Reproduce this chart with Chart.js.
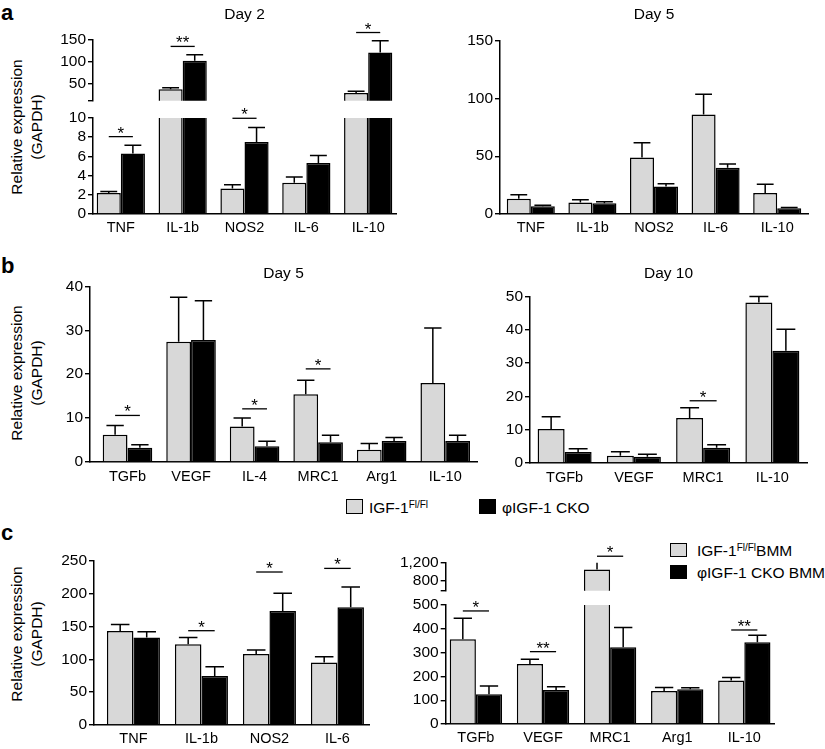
<!DOCTYPE html>
<html>
<head>
<meta charset="utf-8">
<script src="https://cdn.jsdelivr.net/npm/chart.js@4.4.1/dist/chart.umd.min.js"></script>
<style>
  body { margin: 0; background: #fff; }
  #fig { position: relative; width: 825px; height: 749px; overflow: hidden; background: #fff;
         font-family: "Liberation Sans", Arial, sans-serif; color: #000; }
  #fig canvas { position: absolute; }
  .lbl { position: absolute; font-weight: bold; font-size: 22px; line-height: 21px; }
  .ytitle { position: absolute; font-size: 15.5px; line-height: 20px; text-align: center; white-space: nowrap;
            transform: translate(-50%, -50%) rotate(-90deg); }
  .key { position: absolute; width: 17px; height: 15px; border: 1.4px solid #000; box-sizing: border-box; }
  .keytxt { position: absolute; font-size: 15.5px; line-height: 15px; white-space: nowrap; }
  sup { font-size: 10px; vertical-align: 5px; line-height: 0; }
</style>
</head>
<body>
<div id="fig">
  <div class="lbl" style="left:1px;top:2px">a</div>
  <div class="lbl" style="left:1px;top:255px">b</div>
  <div class="lbl" style="left:1px;top:522px">c</div>

  <div class="ytitle" style="left:27px;top:127px">Relative expression<br>(GAPDH)</div>
  <div class="ytitle" style="left:27px;top:373px">Relative expression<br>(GAPDH)</div>
  <div class="ytitle" style="left:27px;top:634px">Relative expression<br>(GAPDH)</div>

  <div class="key" style="left:346px;top:499px;background:#d8d8d8"></div>
  <div class="keytxt" style="left:369px;top:500px">IGF-1<sup>Fl/Fl</sup></div>
  <div class="key" style="left:479px;top:499px;background:#000"></div>
  <div class="keytxt" style="left:502px;top:500px">φIGF-1 CKO</div>

  <div class="key" style="left:670px;top:543px;height:14px;background:#d8d8d8"></div>
  <div class="keytxt" style="left:697px;top:543px">IGF-1<sup>Fl/Fl</sup>BMM</div>
  <div class="key" style="left:670px;top:565px;height:14px;background:#000"></div>
  <div class="keytxt" style="left:697px;top:565px">φIGF-1 CKO BMM</div>
</div>
<script>
const GRAY = '#d8d8d8';
const BLACK = '#000000';

// a - Day 2 (broken axis) and Day 5
const catA = ['TNF', 'IL-1b', 'NOS2', 'IL-6', 'IL-10'];
const aD2Ctrl = [2.2, 36.6, 2.65, 3.25, 27.6];
const aD2CtrlErr = [0.15, 3.5, 0.4, 0.6, 4];
const aD2Cko = [6.3, 102, 7.5, 5.3, 121];
const aD2CkoErr = [0.85, 14, 1.5, 0.8, 27];
const aD2TopTicks = [10, 50, 100, 150];
const aD2LowTicks = [0, 2, 4, 6, 8, 10];
const aD2TopMarks = [[1, 135, '**'], [4, 167, '*']];
const aD2LowMarks = [[0, 8.06, '*'], [2, 9.97, '*']];

const aD5Ctrl = [13.2, 10, 48.8, 86, 18.1];
const aD5CtrlErr = [3.4, 2.3, 12.9, 17.5, 7.7];
const aD5Cko = [6.6, 9.2, 23.8, 40.1, 4.9];
const aD5CkoErr = [0.9, 1.4, 2.3, 3.2, 0.8];
const aD5Ticks = [0, 50, 100, 150];

// b - Day 5 and Day 10
const catB5 = ['TGFb', 'VEGF', 'IL-4', 'MRC1', 'Arg1', 'IL-10'];
const bD5Ctrl = [6.2, 27.4, 8.1, 15.4, 2.8, 18.0];
const bD5CtrlErr = [2.1, 10.1, 1.9, 3.2, 1.4, 12.5];
const bD5Cko = [3.26, 27.8, 3.56, 4.5, 4.8, 4.8];
const bD5CkoErr = [0.64, 8.9, 1.14, 1.6, 0.8, 1.3];
const bD5Ticks = [0, 10, 20, 30, 40];
const bD5Marks = [[0, 10.6, '*'], [2, 12.1, '*'], [3, 21.2, '*']];

const catB10 = ['TGFb', 'VEGF', 'MRC1', 'IL-10'];
const bD10Ctrl = [10.2, 2.2, 13.5, 48.2];
const bD10CtrlErr = [3.7, 1.2, 3.1, 1.8];
const bD10Cko = [3.3, 1.9, 4.6, 33.7];
const bD10CkoErr = [1.0, 0.7, 0.9, 6.5];
const bD10Ticks = [0, 10, 20, 30, 40, 50];
const bD10Marks = [[2, 18.7, '*']];

// c - BMM
const catC1 = ['TNF', 'IL-1b', 'NOS2', 'IL-6'];
const cM1Ctrl = [143, 123, 108, 95];
const cM1CtrlErr = [10, 10, 6, 9];
const cM1Cko = [133, 74.5, 173.5, 179];
const cM1CkoErr = [9, 14, 27, 31];
const cM1Ticks = [0, 50, 100, 150, 200, 250];
const cM1Marks = [[1, 143.5, '*'], [2, 232.8, '*'], [3, 238.3, '*']];

const catC2 = ['TGFb', 'VEGF', 'MRC1', 'Arg1', 'IL-10'];
const cM2Ctrl = [356, 252, 1050, 139, 183];
const cM2CtrlErr = [88, 20, 160, 14, 12];
const cM2Cko = [125, 143, 323, 146, 343];
const cM2CkoErr = [35, 14, 82, 6, 30];
const cM2TopTicks = [590, 800, 1200];
const cM2LowTicks = [0, 100, 200, 300, 400, 500];
const cM2TopMarks = [[2, 1341, '*']];
const cM2LowMarks = [[0, 475, '*'], [1, 304, '**'], [4, 395, '**']];

Chart.defaults.font.family = '"Liberation Sans", Arial, sans-serif';
Chart.defaults.color = '#000';

const fig = document.getElementById('fig');

// error bars + significance brackets
const errPlugin = {
  id: 'errs',
  afterDatasetsDraw(chart, args, opts) {
    const ctx = chart.ctx;
    const y = chart.scales.y;
    const lo = y.min, hi = y.max;
    ctx.save();
    ctx.strokeStyle = '#000';
    ctx.lineWidth = 1.5;
    chart.data.datasets.forEach((ds, d) => {
      chart.getDatasetMeta(d).data.forEach((bar, i) => {
        const v = ds.data[i].y;
        const top = v + ds.errors[i];
        if (top < lo || v > hi) return;
        const y0 = y.getPixelForValue(Math.max(v, lo));
        const y1 = y.getPixelForValue(Math.min(top, hi));
        ctx.beginPath();
        ctx.moveTo(bar.x, y0);
        ctx.lineTo(bar.x, y1);
        if (top <= hi) {
          const half = bar.width * 0.35;
          ctx.moveTo(bar.x - half, y1);
          ctx.lineTo(bar.x + half, y1);
        }
        ctx.stroke();
      });
    });
    const m0 = chart.getDatasetMeta(0).data;
    const m1 = chart.getDatasetMeta(1).data;
    ctx.lineWidth = 1.3;
    ctx.fillStyle = '#000';
    ctx.font = '17px "Liberation Sans", Arial, sans-serif';
    ctx.textAlign = 'center';
    ctx.textBaseline = 'alphabetic';
    (opts.marks || []).forEach(([i, val, txt]) => {
      const yy = y.getPixelForValue(val);
      const xa = m0[i].x, xb = m1[i].x;
      ctx.beginPath();
      ctx.moveTo(xa, yy);
      ctx.lineTo(xb, yy);
      ctx.stroke();
      ctx.fillText(txt, (xa + xb) / 2, yy + 2);
    });
    ctx.restore();
  }
};

function series(vals, errs, color) {
  return {
    data: vals.map((v, i) => ({ x: i, y: v })),
    errors: errs,
    backgroundColor: color,
    borderColor: '#000',
    borderWidth: 1.5,
    borderSkipped: 'start',
    categoryPercentage: 0.78,
    barPercentage: 1,
    clip: 0
  };
}

function panel(p) {
  const cv = document.createElement('canvas');
  cv.width = p.w;
  cv.height = p.h;
  cv.style.left = p.left + 'px';
  cv.style.top = p.top + 'px';
  fig.appendChild(cv);
  const lo = p.yTicks[0];
  const hi = p.yTicks[p.yTicks.length - 1];
  const showX = p.xAxis !== false;
  return new Chart(cv, {
    type: 'bar',
    data: { datasets: [series(p.ctrl, p.ctrlErr, GRAY), series(p.cko, p.ckoErr, BLACK)] },
    options: {
      responsive: false,
      animation: false,
      events: [],
      layout: { padding: p.pad },
      plugins: {
        legend: { display: false },
        tooltip: { enabled: false },
        title: {
          display: !!p.title,
          text: p.title || '',
          fullSize: false,
          color: '#000',
          font: { size: 15.5, weight: 'normal' },
          padding: { top: p.tPad ? p.tPad[0] : 0, bottom: p.tPad ? p.tPad[1] : 0 }
        },
        errs: { marks: p.marks || [] }
      },
      scales: {
        x: {
          type: 'linear',
          offset: false,
          min: p.xr[0],
          max: p.xr[1],
          display: showX,
          afterBuildTicks: s => { s.ticks = p.cats.map((c, i) => ({ value: i })); },
          afterFit: s => { s.height = showX ? 22 : 0; },
          grid: { display: false, drawTicks: false },
          border: { display: true, color: '#000', width: 1.5 },
          ticks: { callback: v => p.cats[v], font: { size: 14.5 }, padding: p.xPad || 6,
                   autoSkip: false, maxRotation: 0, color: '#000' }
        },
        y: {
          min: lo,
          max: hi,
          afterBuildTicks: s => { s.ticks = p.yTicks.map(v => ({ value: v })); },
          afterFit: s => { s.width = p.yw; },
          grid: { drawOnChartArea: false, drawTicks: true, tickLength: 5, color: '#000', lineWidth: 1.4 },
          border: { display: true, color: '#000', width: 1.5 },
          ticks: {
            callback: v => (p.blankMin && v === lo) ? '' : v.toLocaleString('en-US'),
            font: { size: 15.5 }, padding: 2, autoSkip: false, color: '#000'
          }
        }
      }
    },
    plugins: [errPlugin]
  });
}

// a, Day 2 (upper and lower segment)
panel({ left: 0, top: 0, w: 410, h: 112, pad: { top: 0, right: 14, bottom: 10, left: 0 }, yw: 93,
  title: 'Day 2', tPad: [5, 16.3], xAxis: false, xr: [-0.45, 4.45], cats: catA,
  ctrl: aD2Ctrl, ctrlErr: aD2CtrlErr, cko: aD2Cko, ckoErr: aD2CkoErr,
  yTicks: aD2TopTicks, blankMin: true, marks: aD2TopMarks });
panel({ left: 0, top: 104, w: 410, h: 132, pad: { top: 14, right: 14, bottom: 0, left: 0 }, yw: 93,
  xr: [-0.45, 4.45], xPad: 5.5, cats: catA,
  ctrl: aD2Ctrl, ctrlErr: aD2CtrlErr, cko: aD2Cko, ckoErr: aD2CkoErr,
  yTicks: aD2LowTicks, marks: aD2LowMarks });

// a, Day 5
panel({ left: 420, top: 0, w: 398, h: 236, pad: { top: 0, right: 10, bottom: 0, left: 0 }, yw: 80,
  title: 'Day 5', tPad: [5, 17], xr: [-0.5, 4.5], xPad: 5.5, cats: catA,
  ctrl: aD5Ctrl, ctrlErr: aD5CtrlErr, cko: aD5Cko, ckoErr: aD5CkoErr, yTicks: aD5Ticks });

// b
panel({ left: 0, top: 240, w: 487, h: 244, pad: { top: 0, right: 10, bottom: 0, left: 0 }, yw: 90,
  title: 'Day 5', tPad: [24, 3.7], xr: [-0.59, 5.5], xPad: 6.5, cats: catB5,
  ctrl: bD5Ctrl, ctrlErr: bD5CtrlErr, cko: bD5Cko, ckoErr: bD5CkoErr,
  yTicks: bD5Ticks, marks: bD5Marks });
panel({ left: 450, top: 240, w: 367, h: 245, pad: { top: 0, right: 10, bottom: 0, left: 0 }, yw: 80,
  title: 'Day 10', tPad: [24, 14], xr: [-0.5, 3.5], xPad: 6, cats: catB10,
  ctrl: bD10Ctrl, ctrlErr: bD10CtrlErr, cko: bD10Cko, ckoErr: bD10CkoErr,
  yTicks: bD10Ticks, marks: bD10Marks });

// c
panel({ left: 0, top: 540, w: 380, h: 207, pad: { top: 20.7, right: 10.6, bottom: 0, left: 0 }, yw: 94,
  xr: [-0.58, 3.47], xPad: 5.5, cats: catC1,
  ctrl: cM1Ctrl, ctrlErr: cM1CtrlErr, cko: cM1Cko, ckoErr: cM1CkoErr,
  yTicks: cM1Ticks, marks: cM1Marks });
panel({ left: 380, top: 540, w: 405, h: 62, pad: { top: 22.7, right: 10.5, bottom: 10, left: 0 }, yw: 65.7,
  xAxis: false, xr: [-0.45, 4.45], cats: catC2,
  ctrl: cM2Ctrl, ctrlErr: cM2CtrlErr, cko: cM2Cko, ckoErr: cM2CkoErr,
  yTicks: cM2TopTicks, blankMin: true, marks: cM2TopMarks });
panel({ left: 380, top: 590, w: 405, h: 156, pad: { top: 15, right: 10.5, bottom: 0, left: 0 }, yw: 65.7,
  xr: [-0.45, 4.45], xPad: 5.5, cats: catC2,
  ctrl: cM2Ctrl, ctrlErr: cM2CtrlErr, cko: cM2Cko, ckoErr: cM2CkoErr,
  yTicks: cM2LowTicks, marks: cM2LowMarks });
</script>
</body>
</html>
